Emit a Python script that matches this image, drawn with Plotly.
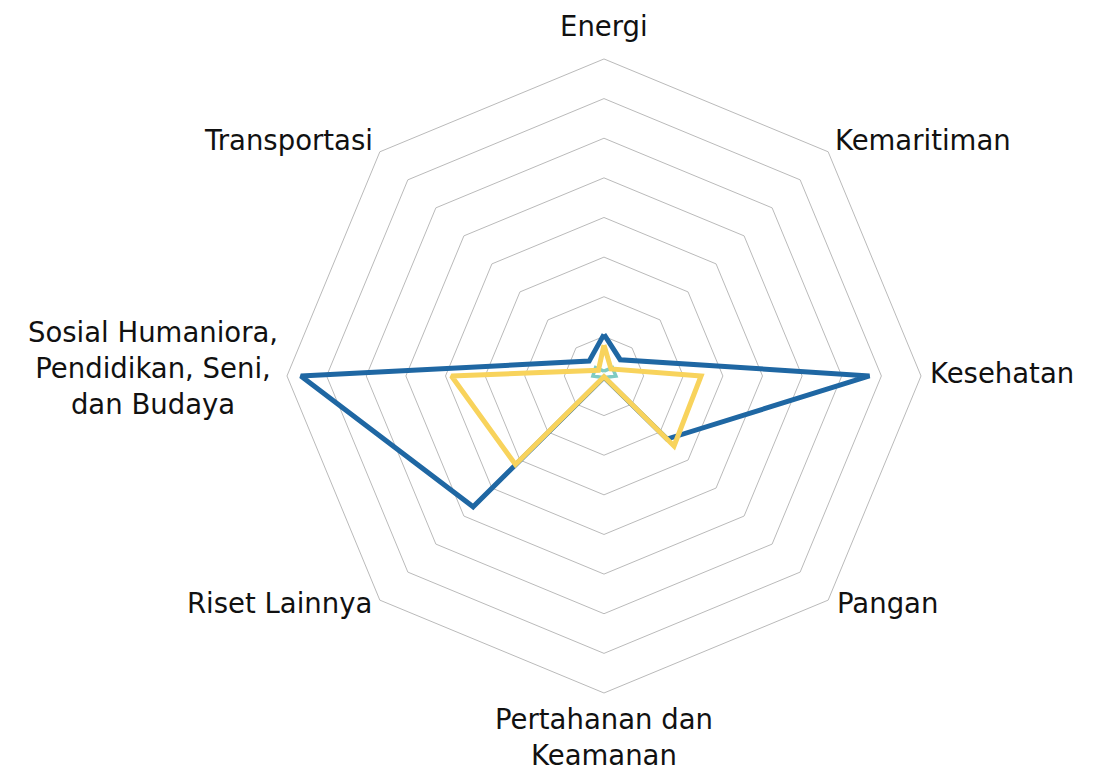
import plotly.graph_objects as go

categories = ["Energi", "Kemaritiman", "Kesehatan", "Pangan",
              "Pertahanan dan Keamanan", "Riset Lainnya",
              "Sosial Humaniora, Pendidikan, Seni, dan Budaya", "Transportasi"]

tick_labels = ["Energi", "Kemaritiman", "Kesehatan", "Pangan",
               "Pertahanan dan<br>Keamanan", "Riset Lainnya",
               "Sosial Humaniora,<br>Pendidikan, Seni,<br>dan Budaya", "Transportasi"]

series_blue = [10.5, 5.8, 67.0, 22.5, 0.3, 46.7, 76.5, 5.3]
series_yellow = [7.8, 2.5, 24.5, 25.0, 0.2, 31.6, 38.5, 2.0]
series_teal = [1.2, 3.0, 3.0, 0.5, 0.0, 0.5, 2.8, 3.0]

colors = {"blue": "#1f67a3", "yellow": "#f8d35c", "teal": "#80cbc3"}

W, H = 1104, 772

def closed(v):
    return v + v[:1]

theta = closed(categories)

fig = go.Figure()
fig.add_trace(go.Scatterpolar(r=closed(series_blue), theta=theta, mode="lines",
                              line=dict(color=colors["blue"], width=5),
                              name="Series 1"))
fig.add_trace(go.Scatterpolar(r=closed(series_teal), theta=theta, mode="lines",
                              line=dict(color=colors["teal"], width=3.5),
                              name="Series 3"))
fig.add_trace(go.Scatterpolar(r=closed(series_yellow), theta=theta, mode="lines",
                              line=dict(color=colors["yellow"], width=5),
                              name="Series 2"))

# category label placement (pixel anchor, xanchor)
label_pos = [
    (596, 18, "center"),
    (825, 132, "left"),
    (920, 365, "left"),
    (827, 595, "left"),
    (596, 729, "center"),
    (366, 595, "right"),
    (272, 360, "right"),
    (367, 132, "right"),
]

annotations = []
for text, (px, py, xa) in zip(tick_labels, label_pos):
    annotations.append(dict(
        text=text, x=px / W, y=1 - py / H, xref="paper", yref="paper",
        xanchor=xa, yanchor="middle", align="center", showarrow=False,
        font=dict(family="DejaVu Sans", size=27.5, color="#111111")))

fig.update_layout(
    width=W, height=H,
    margin=dict(l=0, r=0, t=0, b=0),
    paper_bgcolor="white",
    showlegend=False,
    font=dict(family="DejaVu Sans", size=27.5, color="#111111"),
    annotations=annotations,
    polar=dict(
        domain=dict(x=[0.2527, 0.8270], y=[0.1127, 0.9340]),
        bgcolor="white",
        gridshape="linear",
        radialaxis=dict(range=[0, 80], dtick=10, showticklabels=False, ticks="",
                        showline=False, gridcolor="#bababa", gridwidth=1),
        angularaxis=dict(rotation=90, direction="clockwise", showgrid=False,
                         showline=True, linecolor="#bababa", linewidth=1,
                         ticks="", showticklabels=False),
    ),
)

fig.write_html("out.html")
